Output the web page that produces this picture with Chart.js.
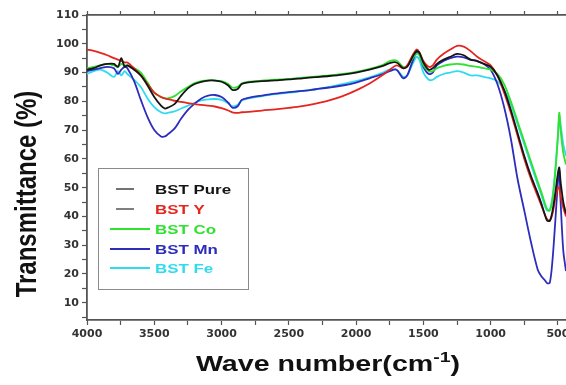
<!DOCTYPE html>
<html><head><meta charset="utf-8">
<script src="https://cdn.jsdelivr.net/npm/chart.js@4.4.1/dist/chart.umd.min.js"></script>
<style>html,body{margin:0;padding:0;background:#fff;}#wrap{width:566px;height:385px;}</style>
</head><body><div id="wrap"><canvas id="c" width="566" height="385"></canvas></div>
<script>
const wavenumbers = [4000,3950,3900,3850,3800,3770,3745,3720,3700,3650,3600,3550,3500,3450,3420,3400,3350,3300,3250,3200,3150,3100,3050,3000,2950,2920,2880,2850,2800,2700,2600,2500,2400,2300,2200,2100,2000,1900,1800,1750,1700,1650,1620,1580,1550,1530,1500,1460,1430,1400,1350,1300,1250,1200,1150,1100,1050,1000,950,900,850,800,750,700,650,620,600,580,560,540,520,500,490,480,460,440];
const bstPure = [91,91.5,92.5,93,93,92,95,92,92.5,91,89,85.5,81.5,78.5,77.5,77.8,79,82,84.5,86,86.8,87.2,87.2,86.8,85.5,84,84.3,86,86.6,87,87.3,87.6,88,88.4,88.8,89.3,90,91,92.3,93.3,93.5,91.5,92,95.5,97.5,97,93.5,91,91.5,93,94.5,95.5,96.5,96,94.5,94,93,92,89,84,77,69,61,54,48,44,41,38.5,38.5,42,48,55,57,52,45,41];
const bstY = [98,97.5,96.8,96,95,94.5,94,93.5,93.5,91.5,89,86,83,81.5,81,80.8,80.2,79.8,79.4,79,78.8,78.5,78.2,77.6,76.8,76.2,76,76.2,76.3,76.8,77.2,77.7,78.3,79.2,80.3,81.8,83.8,86.2,89.2,91,92.5,91.5,92.5,96,98,97,94,92,92.5,94.5,96.5,98,99.3,99,97.5,95.5,94,92.5,89,83,76,68,60,53,47,43.5,41,39,38.5,41,46,50,50,47,43,40];
const bstCo = [91.5,92,92.5,93,92.5,92,93,92.5,92.5,91.5,90,86.5,83,81.5,81,81,81.8,83.5,85,86.3,87,87.3,87.3,87,86,84.8,85,86.3,86.8,87.2,87.5,87.8,88.2,88.6,89,89.5,90.2,91.3,92.7,94,94.2,92,92.3,95,96.5,96,92.5,90.5,90.5,91.5,92.3,92.8,93,92.8,92.3,92,91.5,91,89.5,86,80,73,66,59,52,48,45,42.5,42,46,55,68,76,70,62,58];
const bstMn = [90.5,91,91.5,92,91.5,89.5,91,92,91.5,87,80.5,74.5,70,67.8,67.8,68.5,70.5,74,77,79.2,81,82,82.2,81.5,79.5,77.8,78.3,80.5,81.2,82,82.7,83.2,83.6,84.2,84.8,85.5,86.5,88,89.5,90.5,91,88,89,94,97,96.5,92,89.5,90,92.5,94,95,95.5,95.3,94.5,94,93,91,86,78,67,53,42,31,21.5,19,18,16.8,17,25,38,52,56,45,28,21];
const bstFe = [89.5,90.5,91,90,88.5,90.5,89,90.5,89.5,87.5,85,81,78,76.2,75.8,76,76.5,77.5,78.5,79.5,80.3,80.7,80.8,80.5,79.3,78.3,78.8,80.3,81,81.8,82.5,83,83.6,84.2,85,86,87,88.3,90,91,91,88.5,89,93,95.5,94.5,90,87.5,87.5,88.5,89.5,90,90.5,90,89,89,88.5,88,87,84,79,72,65,58,51,47,44,42,42.5,47,56,68,75,72,65,61];
const seriesNames = ['BST Pure','BST Y','BST Co','BST Mn','BST Fe'];
const seriesValues = [bstPure, bstY, bstCo, bstMn, bstFe];
const seriesColors = ['#151515','#e5261f','#2fe22f','#2d2dbd','#2fdcef'];
const yTicks = [5,10,15,20,25,30,35,40,45,50,55,60,65,70,75,80,85,90,95,100,105,110];
const xTicks = [4000,3750,3500,3250,3000,2750,2500,2250,2000,1750,1500,1250,1000,750,500];

const datasets = seriesNames.map((name, i) => ({
  label: name,
  data: wavenumbers.map((w, j) => ({x: w, y: seriesValues[i][j]})),
  borderColor: seriesColors[i],
  backgroundColor: seriesColors[i],
  borderWidth: 1.8,
  pointRadius: 0,
  tension: 0.3,
  fill: false
}));

const tickFont = {family: 'DejaVu Sans', weight: 'bold', size: 11};
const axisColor = '#555';

const decor = {
  id: 'decor',
  afterDraw(chart) {
    const ctx = chart.ctx;
    ctx.save();
    ctx.fillStyle = '#fff';
    ctx.fillRect(98, 168, 151, 122);
    ctx.strokeStyle = '#8a8a8a';
    ctx.lineWidth = 1;
    ctx.strokeRect(98.5, 168.5, 150, 121);
    const rows = [189, 209, 229, 249, 268];
    const lineX = [[116,134],[116,134],[110,150],[110,150],[110,150]];
    const lineC = ['#444','#555', seriesColors[2], seriesColors[3], seriesColors[4]];
    rows.forEach((y, i) => {
      ctx.strokeStyle = lineC[i];
      ctx.lineWidth = i < 2 ? 1.5 : 2;
      ctx.beginPath(); ctx.moveTo(lineX[i][0], y); ctx.lineTo(lineX[i][1], y); ctx.stroke();
      ctx.save();
      ctx.translate(155, y);
      ctx.scale(1.3, 1);
      ctx.font = 'bold 13px "Liberation Sans", Arial, sans-serif';
      ctx.fillStyle = seriesColors[i];
      ctx.textAlign = 'left'; ctx.textBaseline = 'middle';
      ctx.fillText(seriesNames[i], 0, 1);
      ctx.restore();
    });
    ctx.save();
    ctx.translate(28, 194);
    ctx.scale(1.25, 1);
    ctx.rotate(-Math.PI / 2);
    ctx.font = 'bold 24px "Liberation Sans", Arial, sans-serif';
    ctx.fillStyle = '#111';
    ctx.textAlign = 'center'; ctx.textBaseline = 'middle';
    ctx.fillText('Transmittance (%)', 0, 0);
    ctx.restore();
    ctx.save();
    const big = 'bold 22px "Liberation Sans", Arial, sans-serif';
    const small = 'bold 15px "Liberation Sans", Arial, sans-serif';
    ctx.font = big; const w1 = ctx.measureText('Wave number(cm').width; const w3 = ctx.measureText(')').width;
    ctx.font = small; const w2 = ctx.measureText('-1').width;
    const sx = 1.3;
    const total = (w1 + w2 + w3) * sx;
    ctx.translate(328 - total / 2, 371);
    ctx.scale(sx, 1);
    ctx.fillStyle = '#111';
    ctx.textBaseline = 'alphabetic'; ctx.textAlign = 'left';
    ctx.font = big; ctx.fillText('Wave number(cm', 0, 0);
    ctx.font = small; ctx.fillText('-1', w1, -9);
    ctx.font = big; ctx.fillText(')', w1 + w2, 0);
    ctx.restore();
    ctx.restore();
  }
};

new Chart(document.getElementById('c'), {
  type: 'line',
  data: {datasets},
  options: {
    responsive: false,
    animation: false,
    layout: {padding: 0},
    plugins: {legend: {display: false}, tooltip: {enabled: false}},
    scales: {
      x: {
        type: 'linear', position: 'bottom', reverse: true, min: 440, max: 4000,
        afterBuildTicks: s => { s.ticks = xTicks.map(v => ({value: v})); },
        afterFit: s => { s.height = 65; s.paddingLeft = 0; s.paddingRight = 0; },
        ticks: {font: tickFont, color: '#333', maxRotation: 0, autoSkip: false, padding: 3,
          callback: v => (v % 500 === 0 ? String(v) : '')},
        grid: {drawOnChartArea: false, tickLength: 5, color: axisColor, tickWidth: 1.2},
        border: {color: axisColor, width: 1.8}
      },
      x2: {
        type: 'linear', position: 'top', reverse: true, min: 440, max: 4000,
        afterBuildTicks: s => { s.ticks = xTicks.map(v => ({value: v})); },
        afterFit: s => { s.height = 15; s.paddingLeft = 0; s.paddingRight = 0; },
        ticks: {display: false, autoSkip: false},
        grid: {drawOnChartArea: false, tickLength: 4, color: axisColor, tickWidth: 1.2},
        border: {color: axisColor, width: 1.8}
      },
      y: {
        type: 'linear', position: 'left', min: 4, max: 110,
        afterBuildTicks: s => { s.ticks = yTicks.map(v => ({value: v})); },
        afterFit: s => { s.width = 87; s.paddingTop = 0; s.paddingBottom = 0; },
        ticks: {font: tickFont, color: '#333', padding: 3, autoSkip: false,
          callback: v => (v % 10 === 0 ? String(v) : '')},
        grid: {drawOnChartArea: false, tickLength: 5, color: axisColor, tickWidth: 1.2},
        border: {color: axisColor, width: 1.8}
      }
    }
  },
  plugins: [decor]
});
</script>
</body></html>
